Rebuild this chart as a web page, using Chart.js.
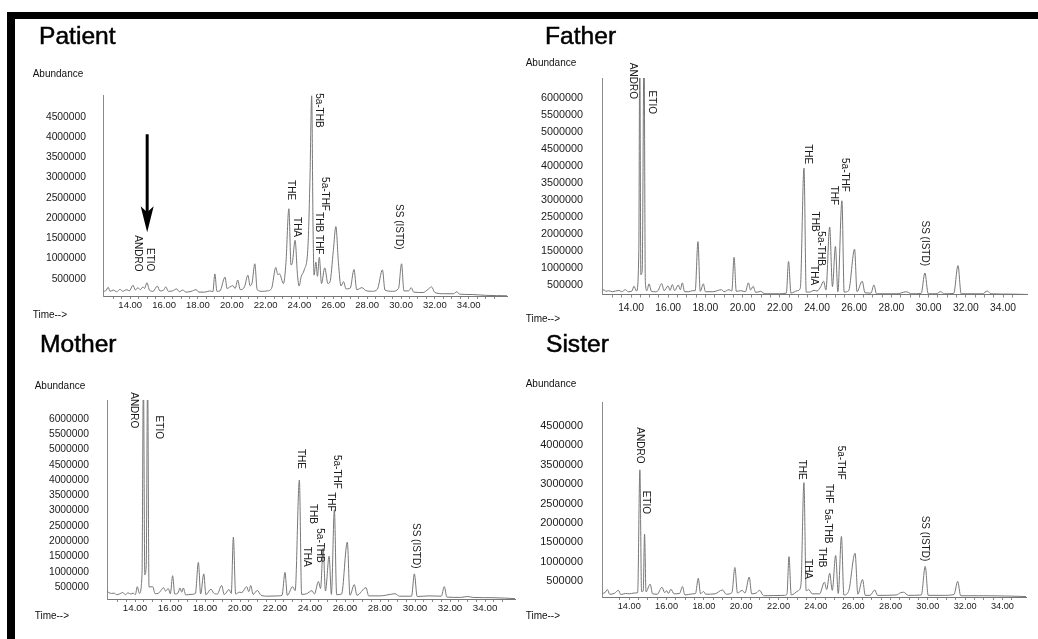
<!DOCTYPE html>
<html>
<head>
<meta charset="utf-8">
<script src="https://cdn.jsdelivr.net/npm/chart.js@4"></script>
<style>
  html, body { margin: 0; padding: 0; background: #fff; }
  body { width: 1038px; height: 639px; position: relative; overflow: hidden; font-family: "Liberation Sans", Arial, sans-serif; }
  canvas { position: absolute; }
  .bar { position: absolute; background: #000; }
  .txt { position: absolute; white-space: nowrap; line-height: 1; color: #111; }
  .title { font-size: 24.6px; -webkit-text-stroke: 0.5px #000; color: #000; }
  .small { font-size: 10px; }
</style>
</head>
<body>
<div class="bar" style="left:7px;top:12px;width:1031px;height:7px"></div>
<div class="bar" style="left:7px;top:12px;width:8px;height:627px"></div>

<canvas id="patient" width="503" height="300" style="left:16px;top:20px"></canvas>
<canvas id="father" width="519" height="300" style="left:519px;top:20px"></canvas>
<canvas id="mother" width="503" height="319" style="left:16px;top:320px"></canvas>
<canvas id="sister" width="519" height="319" style="left:519px;top:320px"></canvas>

<script>
// ---- data: [time (min), abundance] ----
const patientTrace = [
  [12.39, 190000], [12.55, 200000], [12.7, 290000], [12.8, 190000], [13.0, 220000], [13.2, 180000],
  [13.4, 240000], [13.55, 190000], [13.8, 230000], [13.95, 200000], [14.16, 340000], [14.3, 220000],
  [14.45, 280000], [14.6, 230000], [14.75, 300000], [14.85, 260000], [14.98, 400000], [15.15, 210000],
  [15.35, 190000], [15.6, 320000], [15.75, 200000], [15.95, 210000], [16.1, 300000], [16.25, 190000],
  [16.5, 200000], [16.75, 250000], [16.9, 180000], [17.1, 220000], [17.3, 170000], [17.6, 190000],
  [17.9, 230000], [18.05, 170000], [18.4, 170000], [18.7, 200000], [18.88, 180000], [19.0, 620000],
  [19.12, 190000], [19.3, 200000], [19.6, 540000], [19.72, 260000], [19.9, 300000], [20.06, 330000],
  [20.2, 260000], [20.35, 470000], [20.5, 230000], [20.75, 300000], [20.95, 590000], [21.08, 330000],
  [21.2, 400000], [21.36, 870000], [21.5, 230000], [21.8, 190000], [22.1, 200000], [22.35, 260000],
  [22.6, 780000], [22.72, 600000], [22.82, 620000], [23.05, 380000], [23.2, 900000], [23.37, 2230000],
  [23.5, 840000], [23.58, 900000], [23.74, 1450000], [23.88, 600000], [23.98, 320000], [24.1, 550000],
  [24.28, 720000], [24.5, 1300000], [24.62, 3000000], [24.72, 5020000], [24.8, 1800000], [24.86, 590000],
  [24.97, 910000], [25.06, 560000], [25.17, 1030000], [25.3, 380000], [25.49, 770000], [25.68, 380000],
  [25.8, 420000], [26.0, 1200000], [26.15, 1790000], [26.3, 900000], [26.45, 320000], [26.6, 430000],
  [26.75, 250000], [27.0, 270000], [27.22, 730000], [27.38, 230000], [27.7, 280000], [27.9, 210000],
  [28.3, 190000], [28.6, 240000], [28.9, 720000], [29.05, 220000], [29.5, 190000], [29.85, 260000],
  [30.03, 870000], [30.17, 200000], [30.45, 200000], [30.6, 280000], [30.75, 170000], [31.3, 160000],
  [31.6, 240000], [31.8, 300000], [32.0, 160000], [32.5, 130000], [33.1, 130000], [33.3, 180000],
  [33.45, 120000], [34.2, 110000], [35.0, 90000], [36.26, 80000]
];

const fatherTrace = [
  [12.44, 320000], [12.55, 360000], [12.65, 310000], [12.8, 330000], [13.0, 300000], [13.35, 340000],
  [13.5, 300000], [13.7, 360000], [13.85, 300000], [14.05, 320000], [14.16, 460000], [14.3, 320000],
  [14.42, 1500000], [14.47, 7500000], [14.53, 800000], [14.6, 900000], [14.7, 7500000], [14.77, 600000],
  [14.85, 330000], [14.97, 530000], [15.1, 310000], [15.3, 300000], [15.45, 330000], [15.65, 540000],
  [15.78, 330000], [15.99, 470000], [16.1, 340000], [16.22, 510000], [16.35, 330000], [16.54, 500000],
  [16.65, 360000], [16.76, 560000], [16.88, 300000], [17.1, 300000], [17.3, 330000], [17.45, 330000],
  [17.6, 1770000], [17.72, 310000], [17.89, 530000], [18.0, 300000], [18.4, 300000], [18.87, 360000],
  [19.0, 300000], [19.27, 360000], [19.42, 320000], [19.54, 1310000], [19.66, 310000], [19.9, 330000],
  [20.15, 300000], [20.31, 560000], [20.43, 350000], [20.57, 460000], [20.7, 280000], [20.97, 310000],
  [21.2, 240000], [22.0, 240000], [22.35, 260000], [22.47, 1190000], [22.6, 260000], [22.94, 330000],
  [23.1, 400000], [23.3, 3930000], [23.42, 290000], [23.6, 290000], [23.84, 340000], [24.0, 320000],
  [24.2, 450000], [24.35, 610000], [24.48, 350000], [24.68, 2200000], [24.83, 450000], [24.99, 1630000],
  [25.12, 300000], [25.34, 2970000], [25.46, 290000], [25.7, 330000], [26.02, 1550000], [26.15, 300000],
  [26.43, 610000], [26.58, 270000], [26.9, 260000], [27.06, 500000], [27.2, 240000], [28.3, 240000],
  [28.5, 260000], [28.77, 300000], [29.1, 240000], [29.6, 250000], [29.8, 850000], [29.98, 240000],
  [30.4, 240000], [30.65, 300000], [30.85, 240000], [31.35, 250000], [31.58, 1070000], [31.75, 240000],
  [32.9, 240000], [33.15, 320000], [33.35, 240000], [34.5, 230000], [35.29, 220000]
];

const motherTrace = [
  [12.4, 360000], [12.5, 320000], [12.65, 290000], [12.8, 300000], [12.95, 250000], [13.1, 270000],
  [13.3, 320000], [13.45, 250000], [13.6, 310000], [13.75, 270000], [13.9, 300000], [14.02, 250000],
  [14.13, 510000], [14.25, 290000], [14.4, 900000], [14.48, 7500000], [14.56, 900000], [14.64, 1200000],
  [14.72, 7500000], [14.8, 500000], [15.01, 510000], [15.15, 280000], [15.35, 300000], [15.5, 400000],
  [15.62, 480000], [15.75, 370000], [15.9, 450000], [16.02, 280000], [16.15, 870000], [16.27, 270000],
  [16.45, 300000], [16.57, 470000], [16.67, 330000], [16.76, 470000], [16.9, 240000], [17.2, 260000],
  [17.45, 290000], [17.62, 1310000], [17.75, 270000], [17.93, 930000], [18.05, 250000], [18.34, 430000],
  [18.5, 300000], [18.7, 270000], [18.95, 550000], [19.1, 250000], [19.37, 420000], [19.5, 290000],
  [19.62, 2130000], [19.75, 270000], [19.95, 330000], [20.1, 320000], [20.38, 510000], [20.5, 350000],
  [20.61, 550000], [20.75, 260000], [20.99, 390000], [21.2, 230000], [21.6, 200000], [22.2, 210000],
  [22.4, 230000], [22.57, 980000], [22.7, 230000], [23.01, 510000], [23.15, 380000], [23.39, 4000000],
  [23.52, 260000], [23.8, 280000], [24.11, 380000], [24.25, 270000], [24.48, 680000], [24.6, 450000],
  [24.75, 1770000], [24.88, 370000], [25.09, 1510000], [25.22, 260000], [25.39, 3030000], [25.52, 250000],
  [25.8, 270000], [26.13, 1970000], [26.28, 230000], [26.53, 580000], [26.68, 230000], [27.2, 480000],
  [27.35, 210000], [28.0, 210000], [28.6, 260000], [28.86, 280000], [29.1, 200000], [29.8, 200000],
  [29.96, 930000], [30.12, 190000], [30.8, 210000], [31.5, 200000], [31.67, 510000], [31.82, 170000],
  [32.6, 160000], [33.0, 190000], [33.3, 160000], [34.5, 150000], [35.71, 120000]
];

const sisterTrace = [
  [12.54, 180000], [12.7, 200000], [12.83, 280000], [12.95, 160000], [13.2, 180000], [13.42, 260000],
  [13.55, 150000], [13.8, 180000], [14.0, 170000], [14.25, 190000], [14.45, 200000], [14.57, 3370000],
  [14.66, 230000], [14.75, 240000], [14.82, 1710000], [14.9, 220000], [15.12, 420000], [15.25, 170000],
  [15.5, 160000], [15.75, 340000], [15.9, 200000], [16.0, 250000], [16.1, 180000], [16.23, 290000],
  [16.4, 170000], [16.7, 180000], [16.85, 360000], [16.98, 140000], [17.4, 170000], [17.55, 180000],
  [17.7, 570000], [17.82, 170000], [17.98, 230000], [18.1, 160000], [18.6, 170000], [18.99, 270000],
  [19.2, 160000], [19.5, 200000], [19.66, 850000], [19.8, 190000], [20.05, 260000], [20.2, 190000],
  [20.43, 600000], [20.56, 170000], [20.8, 190000], [20.99, 260000], [21.2, 120000], [22.3, 130000],
  [22.45, 160000], [22.56, 1130000], [22.68, 140000], [23.05, 250000], [23.2, 400000], [23.36, 3040000],
  [23.48, 250000], [23.62, 280000], [23.8, 170000], [24.2, 170000], [24.46, 470000], [24.58, 280000],
  [24.74, 700000], [24.88, 260000], [25.06, 1160000], [25.2, 180000], [25.37, 1650000], [25.5, 140000],
  [25.75, 230000], [26.1, 1220000], [26.25, 160000], [26.5, 540000], [26.65, 130000], [26.9, 130000],
  [27.16, 270000], [27.3, 130000], [28.3, 140000], [28.55, 200000], [28.7, 210000], [28.95, 130000],
  [29.65, 140000], [29.86, 880000], [30.02, 130000], [30.8, 130000], [31.4, 150000], [31.6, 490000],
  [31.76, 120000], [33.0, 120000], [34.5, 110000], [35.26, 100000]
];

// peak names: [name, time, abundance at top of the label]
const patientPeaks = [
  ['ANDRO', 14.47, 1573000], ['ETIO', 15.15, 1259000], ['THE', 23.48, 2938000],
  ['THA', 23.84, 2025000], ['5a-THB', 25.16, 5086000], ['5a-THF', 25.49, 3012000],
  ['THB', 25.13, 2148000], ['THF', 25.13, 1580000], ['SS (ISTD)', 29.85, 2346000]
];
const fatherPeaks = [
  ['ANDRO', 14.11, 7020000], ['ETIO', 15.14, 6205000], ['THE', 23.50, 4633000],
  ['5a-THF', 25.50, 4226000], ['THF', 24.91, 3411000], ['THB', 23.875, 2654000],
  ['5a-THB', 24.21, 2072000], ['THA', 23.84, 1083000], ['SS (ISTD)', 29.77, 2392000]
];
const motherPeaks = [
  ['ANDRO', 13.94, 6875000], ['ETIO', 15.37, 6109000], ['THE', 23.45, 5019000],
  ['5a-THF', 25.54, 4822000], ['THF', 25.16, 3601000], ['THB', 24.15, 3218000],
  ['5a-THB', 24.53, 2423000], ['THA', 23.81, 1820000], ['SS (ISTD)', 30.02, 2596000]
];
const sisterPeaks = [
  ['ANDRO', 14.56, 4467000], ['ETIO', 14.90, 2831000], ['THE', 23.25, 3631000],
  ['5a-THF', 25.31, 3992000], ['THF', 24.68, 3004000], ['5a-THB', 24.62, 2359000],
  ['THB', 24.31, 1370000], ['THA', 23.59, 1068000], ['SS (ISTD)', 29.86, 2186000]
];

// arrow in the patient panel: time, abundance at tail and at tip
const patientArrow = { t: 15.0, from: 4070000, to: 1650000 };

// tick labels
const timeTicks = [14, 16, 18, 20, 22, 24, 26, 28, 30, 32, 34];
const abundTicks45 = [500000, 1000000, 1500000, 2000000, 2500000, 3000000, 3500000, 4000000, 4500000];
const abundTicks60 = [500000, 1000000, 1500000, 2000000, 2500000, 3000000, 3500000, 4000000, 4500000,
  5000000, 5500000, 6000000];

const FONT = '"Liberation Sans", Arial, sans-serif';

const panels = [
  { id: 'patient', name: 'Patient', trace: patientTrace, peaks: patientPeaks, arrow: patientArrow, yTicks: abundTicks45,
    xMin: 12.39, xMax: 36.26, yMin: 74000, yMax: 5040000,
    pad: { left: 12, top: 75, right: 12, bottom: 4 }, yPad: 17, xPad: 1, yFont: 10.3, xFont: 9.5,
    titleX: 39, titleBase: 44.5, abX: 32.7, abBase: 77.3, timeX: 32.7, timeBase: 318.7 },
  { id: 'father', name: 'Father', trace: fatherTrace, peaks: fatherPeaks, yTicks: abundTicks60,
    xMin: 12.44, xMax: 35.29, yMin: 218000, yMax: 6575000,
    pad: { left: 8, top: 58, right: 11, bottom: 3 }, yPad: 19, xPad: 4, yFont: 10.8, xFont: 10.3,
    titleX: 545, titleBase: 44.5, abX: 525.7, abBase: 66, timeX: 525.7, timeBase: 322 },
  { id: 'mother', name: 'Mother', trace: motherTrace, peaks: motherPeaks, yTicks: abundTicks60,
    xMin: 12.4, xMax: 35.71, yMin: 108000, yMax: 6620000,
    pad: { left: 16, top: 80, right: 4, bottom: 20 }, yPad: 18, xPad: 0, yFont: 10.3, xFont: 9.8,
    titleX: 40, titleBase: 353.3, abX: 34.7, abBase: 389.7, timeX: 34.7, timeBase: 619 },
  { id: 'sister', name: 'Sister', trace: sisterTrace, peaks: sisterPeaks, yTicks: abundTicks45,
    xMin: 12.54, xMax: 35.26, yMin: 88000, yMax: 5120000,
    pad: { left: 8, top: 82, right: 12, bottom: 22 }, yPad: 19, xPad: 1, yFont: 11, xFont: 9.2,
    titleX: 546, titleBase: 353.3, abX: 525.7, abBase: 387.3, timeX: 525.7, timeBase: 619.3 }
];

// html text placed by its baseline (line-height 1, Liberation Sans baseline at 0.8465em)
function addText(str, cls, size, x, base) {
  const d = document.createElement('div');
  d.className = 'txt ' + cls;
  d.textContent = str;
  d.style.left = x + 'px';
  d.style.top = (base - 0.8465 * size) + 'px';
  document.body.appendChild(d);
}

const peakLabels = {
  id: 'peakLabels',
  afterDatasetsDraw(chart, args, opts) {
    const { ctx, scales: { x, y } } = chart;
    ctx.save();
    ctx.fillStyle = '#1a1a1a';
    ctx.font = '10px ' + FONT;
    ctx.textAlign = 'left';
    ctx.textBaseline = 'middle';
    opts.peaks.forEach(p => {
      ctx.save();
      ctx.translate(x.getPixelForValue(p[1]), y.getPixelForValue(p[2]));
      ctx.rotate(Math.PI / 2);
      ctx.fillText(p[0], 0, 0);
      ctx.restore();
    });
    if (opts.arrow) {
      const a = opts.arrow;
      const ax = x.getPixelForValue(a.t);
      const y0 = y.getPixelForValue(a.from);
      const y1 = y.getPixelForValue(a.to);
      ctx.strokeStyle = '#000';
      ctx.fillStyle = '#000';
      ctx.lineWidth = 3;
      ctx.beginPath();
      ctx.moveTo(ax, y0);
      ctx.lineTo(ax, y1 - 18);
      ctx.stroke();
      ctx.beginPath();
      ctx.moveTo(ax - 6.5, y1 - 26);
      ctx.lineTo(ax, y1 - 20);
      ctx.lineTo(ax + 6.5, y1 - 26);
      ctx.lineTo(ax, y1);
      ctx.closePath();
      ctx.fill();
    }
    ctx.restore();
  }
};

panels.forEach(p => {
  addText(p.name, 'title', 24.6, p.titleX, p.titleBase);
  addText('Abundance', 'small', 10, p.abX, p.abBase);
  addText('Time-->', 'small', 10, p.timeX, p.timeBase);

  new Chart(document.getElementById(p.id), {
    type: 'line',
    data: {
      datasets: [{
        data: p.trace.map(d => ({ x: d[0], y: d[1] })),
        borderColor: '#777',
        borderWidth: 1,
        pointRadius: 0,
        fill: false,
        cubicInterpolationMode: 'monotone'
      }]
    },
    options: {
      responsive: false,
      animation: false,
      events: [],
      layout: { padding: p.pad },
      plugins: {
        legend: { display: false },
        tooltip: { enabled: false },
        peakLabels: { peaks: p.peaks, arrow: p.arrow }
      },
      scales: {
        x: {
          type: 'linear',
          min: p.xMin,
          max: p.xMax,
          afterFit: s => { s.height = 20; },
          afterBuildTicks: s => {
            s.ticks = s.ticks.filter(t => Math.abs(t.value * 2 - Math.round(t.value * 2)) < 1e-6);
          },
          ticks: {
            stepSize: 0.5,
            autoSkip: false,
            maxRotation: 0,
            padding: p.xPad,
            color: '#1a1a1a',
            font: { family: FONT, size: p.xFont },
            callback: v => timeTicks.includes(v) ? v.toFixed(2) : ''
          },
          grid: { display: true, drawOnChartArea: false, drawTicks: true, tickLength: 3, color: '#8a8a8a' },
          border: { display: true, color: '#777', width: 1 }
        },
        y: {
          min: p.yMin,
          max: p.yMax,
          afterFit: s => { s.width = 75; },
          afterBuildTicks: s => { s.ticks = p.yTicks.map(v => ({ value: v })); },
          ticks: {
            padding: p.yPad,
            color: '#1a1a1a',
            font: { family: FONT, size: p.yFont },
            callback: v => String(v)
          },
          grid: { display: false, drawTicks: false },
          border: { display: true, color: '#8a8a8a', width: 1 }
        }
      }
    },
    plugins: [peakLabels]
  });
});
</script>
</body>
</html>
